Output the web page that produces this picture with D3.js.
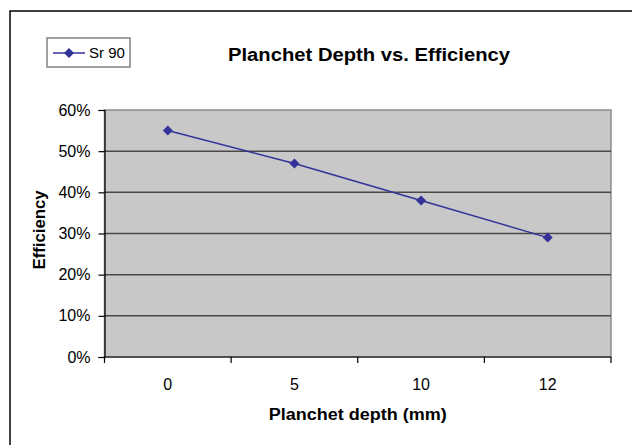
<!DOCTYPE html>
<html>
<head>
<meta charset="utf-8">
<script src="https://cdn.jsdelivr.net/npm/d3@7"></script>
<style>
  html, body { margin: 0; padding: 0; background: #ffffff; }
  svg { display: block; font-family: "Liberation Sans", Arial, sans-serif; }
</style>
</head>
<body>
<svg id="chart" width="632" height="445"></svg>
<script>
// ---- data ----
const categories = ["0", "5", "10", "12"];
const seriesName = "Sr 90";
const efficiency = [0.55, 0.47, 0.38, 0.29];
const yTicks = [0, 0.1, 0.2, 0.3, 0.4, 0.5, 0.6];
const chartTitle = "Planchet Depth vs. Efficiency";
const xTitle = "Planchet depth (mm)";
const yTitle = "Efficiency";

// ---- layout ----
const svg = d3.select("#chart");
const plot = { left: 104.5, right: 611, top: 110, bottom: 357 };
const lineColor = "#333399";

// outer chart frame (extends beyond the window at right/bottom)
svg.append("rect")
  .attr("x", 10).attr("y", 11)
  .attr("width", 700).attr("height", 500)
  .attr("fill", "#ffffff")
  .attr("stroke", "#000").attr("stroke-width", 1.5);

const x = d3.scaleBand().domain(categories).range([plot.left, plot.right]).padding(0);
const y = d3.scaleLinear().domain([0, 0.6]).range([plot.bottom, plot.top]);

// plot area
svg.append("rect")
  .attr("x", plot.left).attr("y", plot.top)
  .attr("width", plot.right - plot.left).attr("height", plot.bottom - plot.top)
  .attr("fill", "#c8c8c8")
  .attr("stroke", "#8c8c8c").attr("stroke-width", 1.5);

// gridlines
svg.append("g").selectAll("line")
  .data(yTicks.filter(t => t > 0 && t < 0.6))
  .join("line")
  .attr("x1", plot.left).attr("x2", plot.right)
  .attr("y1", d => y(d)).attr("y2", d => y(d))
  .attr("stroke", "#4a4a4a").attr("stroke-width", 1.5);

// y axis
const yAxis = svg.append("g")
  .attr("transform", `translate(${plot.left},0)`)
  .call(d3.axisLeft(y).tickValues(yTicks).tickFormat(d3.format(".0%")).tickSize(6).tickPadding(8));
yAxis.select(".domain").attr("stroke", "#000").attr("stroke-width", 1.2);
yAxis.selectAll(".tick line").attr("stroke", "#000").attr("stroke-width", 1.2);
yAxis.selectAll(".tick text")
  .attr("font-size", 16).attr("fill", "#000")
  .attr("font-family", "Liberation Sans, Arial, sans-serif");

// x axis: labels centered on categories, ticks at category boundaries
const xAxis = svg.append("g")
  .attr("transform", `translate(0,${plot.bottom})`)
  .call(d3.axisBottom(x).tickSize(0).tickPadding(0));
xAxis.select(".domain").remove();
xAxis.selectAll(".tick text")
  .attr("y", 33).attr("dy", 0)
  .attr("font-size", 16).attr("fill", "#000")
  .attr("font-family", "Liberation Sans, Arial, sans-serif");
svg.append("line")
  .attr("x1", plot.left).attr("x2", plot.right)
  .attr("y1", plot.bottom).attr("y2", plot.bottom)
  .attr("stroke", "#000").attr("stroke-width", 1.2);
const boundaries = categories.map(c => x(c)).concat([x(categories[categories.length - 1]) + x.bandwidth()]);
svg.append("g").selectAll("line")
  .data(boundaries)
  .join("line")
  .attr("x1", d => d).attr("x2", d => d)
  .attr("y1", plot.bottom).attr("y2", plot.bottom + 6)
  .attr("stroke", "#000").attr("stroke-width", 1.2);

// series line
const pts = categories.map((c, i) => [x(c) + x.bandwidth() / 2, y(efficiency[i])]);
svg.append("path")
  .attr("d", d3.line()(pts))
  .attr("fill", "none")
  .attr("stroke", lineColor).attr("stroke-width", 1.5);

const diamond = d3.symbol(d3.symbolSquare, 50);
svg.append("g").selectAll("path")
  .data(pts)
  .join("path")
  .attr("d", diamond)
  .attr("transform", d => `translate(${d[0]},${d[1]}) rotate(45)`)
  .attr("fill", lineColor);

// titles
svg.append("text")
  .attr("x", 369).attr("y", 61)
  .attr("text-anchor", "middle")
  .attr("font-size", 18).attr("font-weight", "bold")
  .attr("textLength", 282).attr("lengthAdjust", "spacingAndGlyphs")
  .text(chartTitle);

svg.append("text")
  .attr("x", (plot.left + plot.right) / 2).attr("y", 420)
  .attr("text-anchor", "middle")
  .attr("font-size", 16).attr("font-weight", "bold")
  .attr("textLength", 178).attr("lengthAdjust", "spacingAndGlyphs")
  .text(xTitle);

svg.append("text")
  .attr("transform", "translate(45,230) rotate(-90)")
  .attr("text-anchor", "middle")
  .attr("font-size", 16).attr("font-weight", "bold")
  .attr("textLength", 79).attr("lengthAdjust", "spacingAndGlyphs")
  .text(yTitle);

// legend
const lg = svg.append("g").attr("transform", "translate(47,38)");
lg.append("rect")
  .attr("x", 0).attr("y", 0).attr("width", 83).attr("height", 29)
  .attr("fill", "#fff").attr("stroke", "#808080").attr("stroke-width", 1.5);
lg.append("line")
  .attr("x1", 6).attr("x2", 38).attr("y1", 15).attr("y2", 15)
  .attr("stroke", lineColor).attr("stroke-width", 1.5);
lg.append("path")
  .attr("d", diamond)
  .attr("transform", "translate(22,15) rotate(45)")
  .attr("fill", lineColor);
lg.append("text")
  .attr("x", 42).attr("y", 20)
  .attr("font-size", 14)
  .attr("textLength", 36).attr("lengthAdjust", "spacingAndGlyphs")
  .text(seriesName);
</script>
</body>
</html>
